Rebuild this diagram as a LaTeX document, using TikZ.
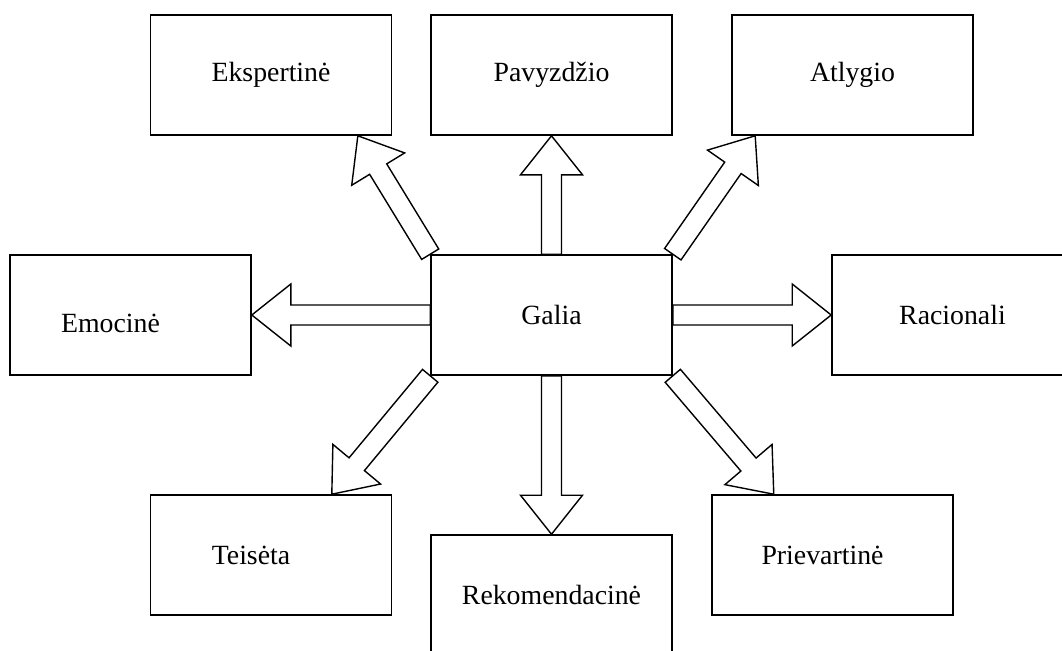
\documentclass[tikz,border=0pt]{standalone}
\usepackage{fontspec}
\setmainfont{Liberation Serif}
\usetikzlibrary{calc}
% hollow block arrow from #1 to #2
\newcommand{\bigarrow}[2]{%
  \path ($(#2)!19.5pt!(#1)$) coordinate (hb);
  \draw[arrowline] ($(#1)!5pt!90:(#2)$) -- ($(hb)!5pt!90:(#2)$)
    -- ($(hb)!15.5pt!90:(#2)$) -- (#2) -- ($(hb)!15.5pt!-90:(#2)$)
    -- ($(hb)!5pt!-90:(#2)$) -- ($(#1)!5pt!-90:(#2)$) -- cycle;}
\begin{document}
\begin{tikzpicture}[x=0.5pt,y=-0.5pt,font=\fontsize{13.9}{16}\selectfont,
  box/.style={draw, line width=0.8pt, minimum width=120.5pt, minimum height=60pt, inner sep=0pt},
  arrowline/.style={fill=white, line width=0.7pt, line join=miter}]
\clip (0,0) rectangle (1062,650);
\node[box] (eksp) at (271,75) {Ekspertinė};
\node[box] (pavy) at (551.5,75) {Pavyzdžio};
\node[box] (atly) at (852.5,75) {Atlygio};
\node[box,label={[xshift=-10pt,yshift=-4pt]center:Emocinė}] (emo) at (130.5,315) {};
\node[box] (galia) at (551.5,315) {Galia};
\node[box] (raci) at (952.5,315) {Racionali};
\node[box,label={[xshift=-10pt]center:Teisėta}] (teis) at (271,555) {};
\node[box] (reko) at (551.5,595) {Rekomendacinė};
\node[box,label={[xshift=-5pt]center:Prievartinė}] (prie) at (832.5,555) {};
\bigarrow{galia.north}{pavy.south}
\bigarrow{galia.west}{emo.east}
\bigarrow{galia.east}{raci.west}
\bigarrow{galia.south}{reko.north}
\bigarrow{galia.north west}{eksp.-35.6}
\bigarrow{galia.north east}{atly.-148.7}
\bigarrow{galia.south west}{teis.45.5}
\bigarrow{galia.south east}{prie.134.5}
\end{tikzpicture}
\end{document}
